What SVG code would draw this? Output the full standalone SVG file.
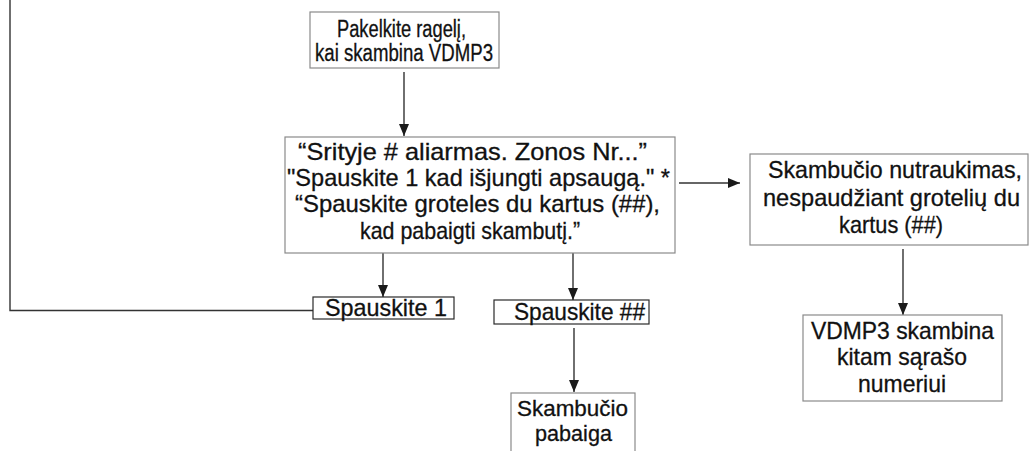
<svg xmlns="http://www.w3.org/2000/svg" width="1029" height="451" viewBox="0 0 1029 451">
<style>
.box{fill:#ffffff;stroke:#8a8a8a;stroke-width:1.2}
.dbox{fill:#ffffff;stroke:#2a2a2a;stroke-width:1.2}
.t{font-family:"Liberation Sans",Arial,sans-serif;font-size:24px;fill:#111111;stroke:#111111;stroke-width:0.3}
.ts{font-size:23px}
.tp{font-size:22px}
.ln{fill:none;stroke:#333333;stroke-width:1.4}
</style>
<defs>
<marker id="ah" viewBox="0 0 12 10" refX="12" refY="5" markerWidth="12" markerHeight="10" markerUnits="userSpaceOnUse" orient="auto">
<path d="M0,0 L12,5 L0,10 Z" fill="#1a1a1a"/>
</marker>
</defs>
<rect width="1029" height="451" fill="#ffffff"/>
<g id="connectors">
<line class="ln" x1="404" y1="72" x2="404" y2="136" marker-end="url(#ah)"/>
<line class="ln" x1="679" y1="183" x2="740" y2="183" marker-end="url(#ah)"/>
<line class="ln" x1="383" y1="242" x2="383" y2="297" marker-end="url(#ah)"/>
<line class="ln" x1="573" y1="242" x2="573" y2="300" marker-end="url(#ah)"/>
<line class="ln" x1="574" y1="328" x2="574" y2="392" marker-end="url(#ah)"/>
<line class="ln" x1="903" y1="249" x2="903" y2="315" marker-end="url(#ah)"/>
<polyline class="ln" points="313,310.5 10,310.5 10,0"/>
</g>
<g id="n-pakelkite">
<rect class="box" x="310" y="12" width="189" height="56"/>
<text class="t ts" x="337" y="37" textLength="129" lengthAdjust="spacingAndGlyphs">Pakelkite ragelį,</text>
<text class="t ts" x="315" y="61" textLength="178" lengthAdjust="spacingAndGlyphs">kai skambina VDMP3</text>
</g>
<g id="n-pranesimas">
<rect class="box" x="285" y="137" width="390" height="116"/>
<text class="t" x="298" y="160" textLength="349" lengthAdjust="spacingAndGlyphs">“Srityje # aliarmas. Zonos Nr...”</text>
<text class="t" x="287" y="186" textLength="383" lengthAdjust="spacingAndGlyphs">"Spauskite 1 kad išjungti apsaugą." *</text>
<text class="t" x="295" y="212" textLength="365" lengthAdjust="spacingAndGlyphs">“Spauskite groteles du kartus (##),</text>
<text class="t" x="360" y="239" textLength="220" lengthAdjust="spacingAndGlyphs">kad pabaigti skambutį.”</text>
</g>
<g id="n-nutraukimas">
<rect class="box" x="750" y="154" width="278" height="91"/>
<text class="t" x="768" y="178" textLength="254" lengthAdjust="spacingAndGlyphs">Skambučio nutraukimas,</text>
<text class="t" x="763" y="206" textLength="257" lengthAdjust="spacingAndGlyphs">nespaudžiant grotelių du</text>
<text class="t" x="839" y="233" textLength="104" lengthAdjust="spacingAndGlyphs">kartus (##)</text>
</g>
<g id="n-spauskite1">
<rect class="dbox" x="313" y="297" width="141" height="22"/>
<text class="t" x="325" y="316" textLength="122" lengthAdjust="spacingAndGlyphs">Spauskite 1</text>
</g>
<g id="n-spauskitehash">
<rect class="dbox" x="494" y="300" width="155" height="24"/>
<text class="t" x="514" y="320" textLength="131" lengthAdjust="spacingAndGlyphs">Spauskite ##</text>
</g>
<g id="n-pabaiga">
<rect class="box" x="511" y="393" width="124" height="70"/>
<text class="t tp" x="517" y="416" textLength="111" lengthAdjust="spacingAndGlyphs">Skambučio</text>
<text class="t tp" x="535" y="441" textLength="77" lengthAdjust="spacingAndGlyphs">pabaiga</text>
</g>
<g id="n-vdmp3">
<rect class="box" x="803" y="315" width="199" height="86"/>
<text class="t" x="811" y="339" textLength="183" lengthAdjust="spacingAndGlyphs">VDMP3 skambina</text>
<text class="t" x="837" y="365" textLength="130" lengthAdjust="spacingAndGlyphs">kitam sąrašo</text>
<text class="t" x="858" y="392" textLength="88" lengthAdjust="spacingAndGlyphs">numeriui</text>
</g>
</svg>
